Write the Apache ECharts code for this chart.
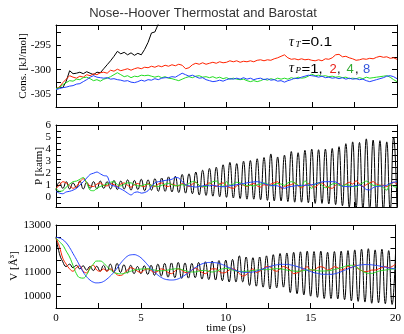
<!DOCTYPE html>
<html><head><meta charset="utf-8">
<script src="https://cdn.jsdelivr.net/npm/echarts@6/dist/echarts.min.js"></script>
<style>html,body{margin:0;padding:0;background:#fff}#c{width:404px;height:334px}</style>
</head><body><div id="c"></div>
<script>
// time grid (ps)
const T = [0,0.2,0.4,0.6,0.8,1,1.2,1.4,1.6,1.8,2,2.2,2.4,2.6,2.8,3,3.2,3.4,3.6,3.8,4,4.2,4.4,4.6,4.8,5,5.2,5.4,5.6,5.8,6,6.2,6.4,6.6,6.8,7,7.2,7.4,7.6,7.8,8,8.2,8.4,8.6,8.8,9,9.2,9.4,9.6,9.8,10,10.2,10.4,10.6,10.8,11,11.2,11.4,11.6,11.8,12,12.2,12.4,12.6,12.8,13,13.2,13.4,13.6,13.8,14,14.2,14.4,14.6,14.8,15,15.2,15.4,15.6,15.8,16,16.2,16.4,16.6,16.8,17,17.2,17.4,17.6,17.8,18,18.2,18.4,18.6,18.8,19,19.2,19.4,19.6,19.8,20];

// Conserved energy [kJ/mol]
const consBlack = [-304.0,-303.5,-303.6,-302.3,-300.2,-300.8,-300.7,-300.5,-300.8,-300.4,-300.7,-301.0,-300.5,-300.6,-299.8,-299.0,-298.2,-297.3,-296.3,-296.8,-296.5,-297.0,-296.6,-297.1,-296.7,-297.0,-295.9,-294.5,-292.6,-292.4,-290.8,-289.5];
const consRed = [-303.8,-303.5,-302.6,-301.9,-301.2,-301.5,-301.7,-301.3,-301.5,-301.0,-301.2,-300.8,-301.0,-300.6,-300.5,-300.7,-300.1,-300.3,-299.9,-300.2,-300.0,-299.8,-300.1,-299.8,-299.6,-299.8,-299.5,-299.6,-299.3,-299.5,-299.2,-299.4,-299.1,-299.3,-299.0,-299.2,-298.9,-299.1,-299.8,-299.6,-299.0,-298.7,-298.9,-298.6,-298.9,-298.7,-298.5,-298.7,-298.4,-298.6,-298.5,-298.2,-298.4,-298.2,-298.5,-298.3,-298.4,-298.2,-298.4,-298.1,-298.0,-298.2,-298.0,-298.1,-297.8,-297.6,-297.3,-297.0,-297.6,-297.9,-297.8,-298.0,-297.8,-298.0,-297.9,-298.1,-298.2,-298.0,-298.2,-297.8,-297.9,-297.6,-297.0,-296.9,-297.4,-297.3,-297.6,-297.8,-298.1,-298.0,-297.8,-297.9,-297.7,-297.8,-297.5,-297.3,-297.5,-297.4,-297.7,-297.6,-297.9];
const consGreen = [-303.8,-303.6,-303.0,-302.6,-302.2,-302.3,-301.9,-302.0,-301.6,-301.5,-301.8,-302.2,-302.0,-302.3,-301.9,-301.7,-301.4,-301.0,-300.6,-301.0,-301.4,-301.2,-301.6,-301.3,-301.4,-301.1,-301.2,-301.1,-301.3,-301.5,-301.3,-301.6,-301.4,-301.7,-301.8,-302.0,-302.2,-301.9,-301.6,-301.4,-301.6,-301.3,-301.2,-301.5,-301.4,-301.6,-301.4,-301.7,-301.5,-301.8,-301.6,-301.9,-301.7,-301.9,-302.0,-301.9,-302.2,-302.4,-302.2,-302.4,-302.2,-301.9,-302.1,-301.8,-302.0,-301.7,-301.9,-301.7,-301.9,-301.6,-301.8,-301.5,-301.7,-301.6,-301.3,-300.9,-301.2,-301.1,-301.3,-301.2,-301.4,-301.3,-301.5,-301.4,-301.6,-301.5,-301.8,-301.7,-301.8,-301.6,-301.8,-301.5,-301.7,-301.6,-301.5,-301.4,-301.3,-301.2,-301.5,-302.0,-302.4];
const consBlue = [-304.0,-303.8,-303.6,-303.5,-303.3,-303.2,-302.9,-302.8,-302.4,-302.0,-301.5,-301.2,-301.5,-301.6,-301.7,-301.6,-301.9,-301.8,-302.0,-302.1,-302.3,-302.2,-302.5,-302.6,-302.4,-302.1,-302.3,-302.0,-302.1,-301.8,-302.0,-301.7,-301.6,-301.6,-301.4,-301.5,-301.1,-300.7,-301.0,-301.3,-301.1,-301.4,-301.7,-301.6,-302.0,-302.2,-302.4,-302.3,-302.1,-302.3,-302.0,-301.8,-301.9,-301.7,-301.9,-301.6,-301.9,-301.7,-302.0,-301.8,-301.7,-302.0,-301.8,-302.1,-302.0,-302.3,-302.2,-302.5,-302.2,-302.0,-301.7,-301.8,-301.5,-301.3,-301.1,-301.2,-301.3,-301.5,-301.3,-301.6,-301.5,-301.7,-301.6,-301.8,-301.6,-301.9,-301.7,-301.9,-301.8,-302.0,-301.9,-302.2,-302.4,-302.2,-302.0,-301.8,-301.6,-301.3,-301.2,-301.4,-301.8];

// Pressure [katm]
const pBlack = [0.6,1.25,0.75,1.3,0.7,1.2,0.8,1.35,0.7,1.25,0.75,1.3,0.7,1.35,0.75,1.3,0.7,1.4,0.65,1.35,0.7,1.45,0.6,1.4,0.65,1.5,0.55,1.45,0.6,1.55,0.5,1.6,0.5,1.7,0.45,1.75,0.4,1.9,0.35,1.95,0.3,2.1,0.2,2.25,0.15,2.4,0.1,2.5,0.05,2.7,0.0,2.9,-0.05,2.8,-0.1,3.0,-0.15,3.05,-0.15,3.2,-0.2,3.3,-0.25,3.6,-0.3,3.35,-0.3,3.5,-0.35,3.8,-0.4,3.7,-0.4,3.9,-0.45,4.0,-0.5,3.95,-0.5,4.0,-0.55,4.05,-0.6,4.2,-0.7,4.45,-0.8,4.6,-0.9,4.55,-0.95,4.85,-1.0,4.75,-1.05,4.7,-1.1,4.6,-1.1,5.0,-1.0];
const pRed = [0.75,1.0,1.3,1.2,0.95,0.75,0.9,1.3,1.55,1.2,0.95,0.9,1.1,1.2,1.0,0.95,1.15,1.05,0.9,1.1,1.2,1.0,0.85,1.05,1.15,0.95,0.9,1.15,1.0,0.9,1.1,1.2,0.95,0.9,1.1,1.0,0.95,1.15,1.05,0.9,1.1,1.25,1.0,0.85,1.05,1.2,1.0,0.9,1.1,1.2,0.95,0.8,0.75,0.95,1.1,1.0,0.9,1.05,1.15,0.95,0.85,1.05,1.0,1.1,1.2,1.3,0.75,0.9,1.0,1.05,1.2,0.95,0.8,1.0,1.15,0.95,0.85,1.1,1.2,0.95,0.8,0.75,1.0,1.15,0.95,1.1,1.25,1.1,1.38,1.1,0.9,1.05,1.2,1.3,1.1,1.0,1.0,0.9,1.0,1.25,1.1];
const pGreen = [0.75,0.5,0.55,0.85,1.1,1.3,1.35,1.5,1.65,1.2,0.6,0.55,0.75,0.9,1.0,1.1,1.25,1.3,1.05,0.95,1.1,1.2,1.2,1.05,0.95,0.95,1.05,1.1,1.0,0.95,0.9,1.0,1.1,1.15,1.05,0.95,1.0,1.05,1.0,1.15,1.3,1.25,1.0,0.9,0.9,1.1,1.3,1.35,1.1,0.9,1.3,1.0,1.1,1.25,1.2,1.05,0.95,1.0,0.95,1.05,1.1,1.2,1.1,0.95,1.05,1.15,1.1,1.0,1.2,1.3,1.2,1.0,0.9,1.38,1.0,0.75,1.1,1.2,1.0,0.8,0.9,1.1,1.15,1.0,0.95,1.05,1.0,0.9,0.88,1.05,1.2,1.35,1.15,1.0,0.95,1.0,0.8,0.6,1.15,0.9,0.85];
const pBlue = [0.5,0.35,0.3,0.45,0.5,0.6,0.75,1.0,1.3,1.6,1.9,2.0,2.1,1.95,1.8,1.75,1.05,0.95,0.85,0.7,0.55,0.35,0.2,0.4,0.45,0.35,0.4,0.55,0.9,1.2,1.3,1.35,1.4,1.45,1.5,1.65,1.6,1.3,1.05,0.95,0.9,0.85,0.9,0.95,1.0,0.95,1.0,0.95,0.9,0.88,0.9,0.95,1.0,1.05,1.1,1.15,1.2,1.25,1.28,1.3,1.25,1.15,1.05,1.0,0.97,0.95,0.85,0.75,0.85,0.9,0.95,0.97,1.0,1.0,1.02,1.05,1.1,1.2,1.28,1.3,1.3,1.3,1.28,1.1,0.92,0.9,0.88,0.92,0.98,1.02,0.9,0.65,0.62,0.8,0.9,0.92,0.95,1.0,1.15,1.25,1.3];

// Volume [A^3]
const vBlack = [12500,11800,11450,11250,11350,11200,11300,11150,11280,11100,11250,11080,11260,11050,11300,11050,11350,11000,11380,11000,11320,10980,11300,10950,11250,10950,11280,10920,11300,10880,11350,10850,11380,10800,11400,10780,11420,10750,11400,10760,11380,10780,11420,10720,11450,10700,11480,10680,11500,10650,11520,10600,11550,10600,11700,10600,11650,10450,11620,10420,11650,10380,11700,10300,11750,10350,11800,10380,11820,10150,11850,10100,11870,10050,11900,10000,11880,9950,11900,9900,11850,9900,11880,9880,11900,9850,11920,9800,11950,9780,11980,9750,12000,9700,11950,9720,11980,9680,11920,9650,11800];
const vRed = [12450,12100,11600,11350,11150,11050,11200,11280,11050,10980,11200,11300,11100,11050,11150,11050,11150,11050,10900,10870,10950,11100,11200,11150,11050,11000,11100,11150,11080,11000,11050,11150,11100,11000,10950,11050,11150,11100,11000,10980,11080,11180,11100,11000,10950,11050,11150,11150,11050,10980,11000,11100,11150,11100,10950,10850,10900,11050,11150,11000,11050,11150,11250,11240,11100,11050,11150,11250,11200,11100,10950,10980,11050,11150,11240,11100,11100,11200,11240,11200,11100,11150,11240,11200,11100,11150,11250,11200,11320,11150,11080,11030,11050,11100,11100,11150,11200,11250,11200,11250,11350];
const vGreen = [12450,12300,12150,11900,11650,11300,10950,10780,10760,10900,11150,11350,11480,11480,11400,11250,11120,11000,10960,10940,10960,11000,11050,11100,11120,11140,11150,11150,11130,11100,11080,11070,11080,11100,11130,11150,11150,11120,11080,11040,11020,11020,11050,11080,11080,11050,11020,11050,11100,11150,11170,11150,11100,11060,11040,11040,11050,11060,11080,11100,11110,11120,11120,11130,11150,11160,11150,11130,11100,11080,11060,11050,11060,11080,11100,11110,11100,11080,11060,11060,11070,11090,11120,11160,11200,11250,11290,11300,11260,11180,11080,11000,10960,10960,11000,11050,11080,11100,11120,11140,11150];
const vBlue = [12480,12450,12380,12250,12050,11800,11550,11280,11020,10820,10680,10590,10560,10570,10620,10720,10850,11000,11180,11380,11550,11680,11740,11750,11710,11620,11480,11320,11160,11020,10890,10790,10720,10690,10680,10690,10730,10800,10890,10990,11100,11200,11290,11360,11400,11420,11420,11410,11380,11330,11270,11200,11140,11080,11040,11010,11000,11000,11020,11050,11100,11150,11200,11250,11290,11320,11340,11340,11340,11320,11290,11250,11200,11150,11090,11040,10990,10960,10930,10920,10920,10920,10940,10980,11030,11090,11150,11210,11260,11300,11320,11330,11330,11320,11300,11280,11250,11220,11190,11170,11150];

// ticks and labels
const xTicks = [0,2.5,5,7.5,10,12.5,15,17.5,20];
const xLabels = [0,5,10,15,20];
const consTicks = [-305,-302.5,-300,-297.5,-295,-292.5];
const consLabels = [-305,-300,-295];
const pTicks = [-0.5,0,0.5,1,1.5,2,2.5,3,3.5,4,4.5,5,5.5];
const pLabels = [0,1,2,3,4,5,6];
const vTicks = [10000,10500,11000,11500,12000,12500];
const vLabels = [10000,11000,12000,13000];

const C = {black:'#000000', red:'#ff2200', green:'#22dd22', blue:'#1f40ff'};
const SERIF = '"Liberation Serif","DejaVu Serif",serif';
const SANS = '"Liberation Sans","DejaVu Sans",sans-serif';

const grids = [
  {left:56, top:25, width:341, height:82},
  {left:56, top:125, width:341, height:82},
  {left:56, top:225, width:341, height:83}
];
const yRanges = [[-307.5,-291],[-0.8,6],[9500,13000]];
const yTicksAll = [consTicks, pTicks, vTicks];
const yLabelsAll = [consLabels, pLabels, vLabels];

const line = {show:true, onZero:false, lineStyle:{color:'#000', width:1}};
const fmt = v => String(v);
const xAxis = [], yAxis = [];
for (let g=0; g<3; g++){
  ['bottom','top'].forEach(pos=>{
    xAxis.push({type:'value', gridIndex:g, min:0, max:20, position:pos,
      axisLine:line, splitLine:{show:false},
      axisTick:{show:true, inside:true, length:5, customValues:xTicks, lineStyle:{color:'#000'}},
      axisLabel:{show:(pos==='bottom' && g===2), customValues:xLabels, formatter:fmt, fontFamily:SERIF, fontSize:11, color:'#000', margin:5}});
  });
  ['left','right'].forEach(pos=>{
    yAxis.push({type:'value', gridIndex:g, min:yRanges[g][0], max:yRanges[g][1], position:pos,
      axisLine:line, splitLine:{show:false},
      axisTick:{show:true, inside:true, length:5, customValues:yTicksAll[g], lineStyle:{color:'#000'}},
      axisLabel:{show:pos==='left', customValues:yLabelsAll[g], formatter:fmt, fontFamily:SERIF, fontSize:11, color:'#000', margin:5}});
  });
}

function ser(g, arr, color, smooth){
  return {type:'line', xAxisIndex:g*2, yAxisIndex:g*2, data:arr.map((v,i)=>[T[i],v]),
    showSymbol:false, smooth:smooth||false, lineStyle:{color:color, width:1}, itemStyle:{color:color}, clip:true};
}
const series = [
  ser(0, consBlack, C.black), ser(0, consRed, C.red), ser(0, consGreen, C.green), ser(0, consBlue, C.blue),
  ser(1, pBlack, C.black, true), ser(1, pRed, C.red, 0.3), ser(1, pGreen, C.green, 0.3), ser(1, pBlue, C.blue, 0.3),
  ser(2, vBlack, C.black, true), ser(2, vRed, C.red, 0.4), ser(2, vGreen, C.green, 0.5), ser(2, vBlue, C.blue, 0.5)
];

function txt(x,y,text,font,color,extra,sx){
  return {type:'text', x:x, y:y, scaleX:sx||1, style:Object.assign({text:text, font:font, fill:color||'#000', textAlign:'left', textVerticalAlign:'middle'}, extra||{})};
}
const graphic = [
  txt(203, 13, 'Nose--Hoover Thermostat and Barostat', '13px '+SANS, '#333', {textAlign:'center'}),
  Object.assign(txt(23, 66, 'Cons. [kJ/mol]', '11px '+SERIF, '#000', {textAlign:'center'}), {rotation:Math.PI/2}),
  Object.assign(txt(39, 166, 'P [katm]', '11px '+SERIF, '#000', {textAlign:'center'}), {rotation:Math.PI/2}),
  Object.assign(txt(14, 266, 'V [Å³]', '11px '+SERIF, '#000', {textAlign:'center'}), {rotation:Math.PI/2}),
  txt(226, 328, 'time (ps)', '11px '+SERIF, '#000', {textAlign:'center'}),
  txt(289, 42.5, 'τ', 'italic 14px '+SERIF),
  txt(295.5, 44.5, 'T', 'italic 9px '+SERIF),
  txt(301.5, 42.5, '=0.1', '13px '+SANS, '#000', null, 1.2),
  txt(289, 68, 'τ', 'italic 14px '+SERIF),
  txt(295.5, 70.5, 'P', 'italic 9px '+SERIF),
  txt(301.5, 69, '=1,', '13px '+SANS, '#000', null, 1.15),
  txt(329.5, 69, '2', '13px '+SANS, '#e8201a'),
  txt(337, 69, ',', '13px '+SANS),
  txt(346.5, 69, '4', '13px '+SANS, '#33aa33'),
  txt(355, 69, ',', '13px '+SANS),
  txt(363, 69, '8', '13px '+SANS, '#3355dd')
];

const chart = echarts.init(document.getElementById('c'), null, {renderer:'canvas'});
chart.setOption({animation:false, backgroundColor:'#fff', grid:grids, xAxis:xAxis, yAxis:yAxis, series:series, graphic:graphic});
</script></body></html>
